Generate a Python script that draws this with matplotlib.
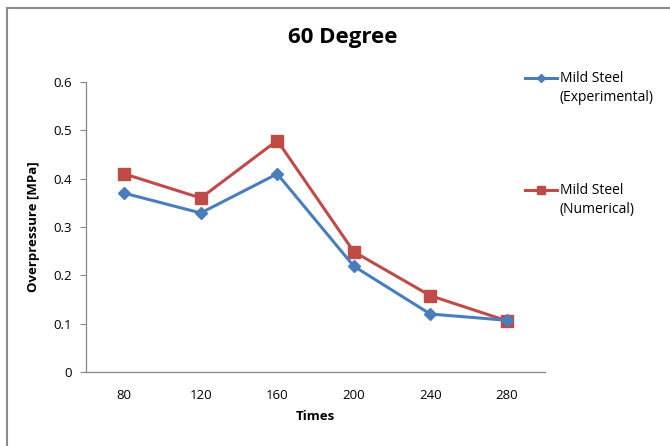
import numpy as np
import matplotlib.pyplot as plt
from matplotlib.lines import Line2D

# donnees
times = ["80", "120", "160", "200", "240", "280"]
experimental = [0.37, 0.329, 0.41, 0.219, 0.12, 0.107]
numerical = [0.41, 0.36, 0.479, 0.249, 0.158, 0.106]
labels = ["Mild Steel\n(Experimental)", "Mild Steel\n(Numerical)"]

plt.rcParams['font.family'] = ['Open Sans', 'DejaVu Sans']

W, H = 670, 446
fig = plt.figure(figsize=(W / 100, H / 100), dpi=100)
ax = fig.add_axes([0.1284, 0.1659, 0.685, 0.6502])

x = np.arange(len(times))
blue = '#4A7EBB'
red = '#BE4B48'
styles = [dict(color=blue, marker='D', ms=6.5), dict(color=red, marker='s', ms=8.5)]
for serie, st, z in zip([experimental, numerical], styles, [3, 2]):
    ax.plot(x, serie, lw=2.2, zorder=z, **st)

ax.set_xlim(-0.5, len(times) - 0.5)
ax.set_ylim(0, 0.6)
ax.set_xticks(x)
ax.set_xticklabels(times)
ax.set_yticks(np.arange(0, 0.61, 0.1))
ax.set_yticklabels(["0", "0.1", "0.2", "0.3", "0.4", "0.5", "0.6"])
ax.tick_params(axis='x', length=0, pad=12, labelsize=9.5)
ax.tick_params(axis='y', length=4, color='#868686', pad=6, labelsize=9.5)

for s in ['top', 'right']:
    ax.spines[s].set_visible(False)
for s in ['left', 'bottom']:
    ax.spines[s].set_color('#868686')
    ax.spines[s].set_linewidth(0.9)

ax.set_xlabel("Times", fontweight='bold', fontsize=9.5, labelpad=6)
ax.set_ylabel("Overpressure [MPa]", fontweight='bold', fontsize=9.5, labelpad=10)

fig.text(0.512, 0.915, "60 Degree", fontsize=16, fontweight='bold',
         ha='center', va='center')

# legende a la main : symbole aligne sur la premiere ligne du texte
for i, (lab, st) in enumerate(zip(labels, styles)):
    y = 1 - (78 + 112 * i) / H
    fig.add_artist(Line2D([525 / W, 541 / W, 557 / W], [y, y, y],
                          transform=fig.transFigure, lw=2.2, markevery=[1],
                          color=st['color'], marker=st['marker'], ms=st['ms'] * 0.65))
    fig.text(560 / W, y + 7 / H, lab, fontsize=10, va='top', ha='left',
             linespacing=1.4)

# cadre du graphique (seulement haut et gauche visibles)
fig.add_artist(Line2D([7 / W, 7 / W], [0, 1 - 8 / H], transform=fig.transFigure,
                      color='#8C8C8C', lw=1.5))
fig.add_artist(Line2D([7 / W, 1], [1 - 8 / H, 1 - 8 / H], transform=fig.transFigure,
                      color='#8C8C8C', lw=1.5))

fig.savefig("out.png", dpi=100)
